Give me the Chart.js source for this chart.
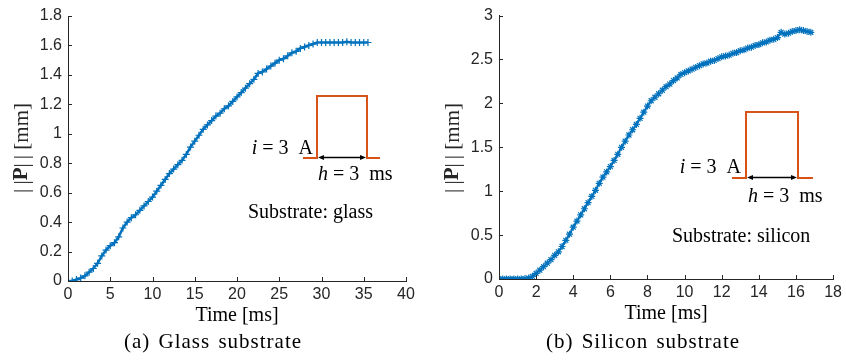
<!DOCTYPE html>
<html>
<head>
<meta charset="utf-8">
<script src="https://cdn.jsdelivr.net/npm/chart.js@4.4.0/dist/chart.umd.min.js"></script>
<style>
  body { margin: 0; background: #fff; width: 846px; height: 361px; position: relative; overflow: hidden; }
  .box { position: absolute; top: 0; width: 423px; height: 361px; }
  .cap { position: absolute; top: 329px; font: 21px "Liberation Serif", serif; letter-spacing: 1px; word-spacing: 2px; color: #000; white-space: nowrap; transform: translateX(-50%); }
</style>
</head>
<body>
<div class="box" style="left:0"><canvas id="glassChart"></canvas></div>
<div class="box" style="left:423px"><canvas id="siliconChart"></canvas></div>
<div class="cap" style="left:213px">(a) Glass substrate</div>
<div class="cap" style="left:643px">(b) Silicon substrate</div>

<script>
// data
const glassTime = [0, 0.5, 1, 1.5, 2, 2.5, 3, 3.5, 4, 4.5, 5, 5.5, 6, 6.5, 7, 7.5, 8, 8.5, 9, 9.5,
  10, 10.5, 11, 11.5, 12, 12.5, 13, 13.5, 14, 14.5, 15, 15.5, 16, 16.5, 17, 17.5, 18, 18.5, 19, 19.5,
  20, 20.5, 21, 21.5, 22, 22.5, 23, 23.5, 24, 24.5, 25, 25.5, 26, 26.5, 27, 27.5, 28, 28.5, 29, 29.5,
  30, 30.5, 31, 31.5, 32, 32.5, 33, 33.5, 34, 34.5, 35, 35.5];
const glassP = [0, 0, 0.01, 0.02, 0.035, 0.06, 0.085, 0.12, 0.17, 0.21, 0.24, 0.26, 0.30, 0.36, 0.40, 0.43, 0.45, 0.48, 0.51, 0.54,
  0.57, 0.61, 0.65, 0.69, 0.73, 0.76, 0.79, 0.82, 0.86, 0.91, 0.95, 0.99, 1.03, 1.06, 1.09, 1.12, 1.14, 1.17, 1.19, 1.22,
  1.25, 1.28, 1.31, 1.34, 1.37, 1.41, 1.42, 1.44, 1.46, 1.48, 1.50, 1.51, 1.53, 1.55, 1.56, 1.58, 1.59, 1.60, 1.61, 1.62,
  1.62, 1.62, 1.62, 1.62, 1.62, 1.62, 1.625, 1.62, 1.62, 1.62, 1.62, 1.62];

const siliconTime = [0, 0.2, 0.4, 0.6, 0.8, 1, 1.2, 1.4, 1.6, 1.8, 2, 2.2, 2.4, 2.6, 2.8, 3, 3.2, 3.4, 3.6, 3.8,
  4, 4.2, 4.4, 4.6, 4.8, 5, 5.2, 5.4, 5.6, 5.8, 6, 6.2, 6.4, 6.6, 6.8, 7, 7.2, 7.4, 7.6, 7.8,
  8, 8.2, 8.4, 8.6, 8.8, 9, 9.2, 9.4, 9.6, 9.8, 10, 10.2, 10.4, 10.6, 10.8, 11, 11.2, 11.4, 11.6, 11.8,
  12, 12.2, 12.4, 12.6, 12.8, 13, 13.2, 13.4, 13.6, 13.8, 14, 14.2, 14.4, 14.6, 14.8, 15, 15.2, 15.4, 15.6, 15.8,
  16, 16.2, 16.4, 16.6, 16.8];
const siliconP = [0, 0, 0, 0, 0, 0, 0, 0.005, 0.01, 0.03, 0.065, 0.10, 0.14, 0.18, 0.22, 0.27, 0.31, 0.37, 0.44, 0.51,
  0.59, 0.66, 0.73, 0.80, 0.87, 0.94, 1.01, 1.09, 1.16, 1.22, 1.28, 1.35, 1.42, 1.50, 1.57, 1.64, 1.70, 1.76, 1.83, 1.90,
  1.97, 2.03, 2.07, 2.11, 2.15, 2.19, 2.22, 2.26, 2.29, 2.33, 2.35, 2.37, 2.39, 2.41, 2.43, 2.45, 2.46, 2.48, 2.49, 2.51,
  2.53, 2.54, 2.55, 2.57, 2.58, 2.60, 2.61, 2.63, 2.64, 2.66, 2.67, 2.69, 2.70, 2.72, 2.73, 2.75, 2.81, 2.79, 2.80, 2.82,
  2.83, 2.84, 2.83, 2.82, 2.81];

const BLUE = '#0072BD';
const ORANGE = '#D95319';
const AXIS = '#262626';
const SERIF = '"Liberation Serif", serif';
const SANS = '"Liberation Sans", Arial';

// draw a row of text pieces with different fonts
function drawRuns(ctx, runs, x, y, align) {
  let total = 0;
  runs.forEach(r => { ctx.font = r.f; total += ctx.measureText(r.t).width; });
  let cx = align === 'right' ? x - total : align === 'center' ? x - total / 2 : x;
  ctx.textBaseline = 'middle';
  ctx.textAlign = 'left';
  runs.forEach(r => { ctx.font = r.f; ctx.fillText(r.t, cx, y); cx += ctx.measureText(r.t).width; });
}

// MATLAB style ticks pointing inward
const inwardTicks = {
  id: 'inwardTicks',
  afterDraw(chart) {
    const ctx = chart.ctx;
    const { x, y } = chart.scales;
    const area = chart.chartArea;
    ctx.save();
    ctx.strokeStyle = AXIS;
    ctx.lineWidth = 1;
    ctx.beginPath();
    x.ticks.forEach((t, i) => {
      const px = Math.round(x.getPixelForTick(i)) + 0.5;
      ctx.moveTo(px, area.bottom);
      ctx.lineTo(px, area.bottom - 4);
    });
    y.ticks.forEach((t, i) => {
      const py = Math.round(y.getPixelForTick(i)) + 0.5;
      ctx.moveTo(area.left, py);
      ctx.lineTo(area.left + 4, py);
    });
    ctx.stroke();
    ctx.restore();
  }
};

const yTitle = {
  id: 'yTitle',
  afterDraw(chart, args, o) {
    const ctx = chart.ctx;
    ctx.save();
    ctx.translate(o.x, o.y);
    ctx.rotate(-Math.PI / 2);
    ctx.fillStyle = AXIS;
    drawRuns(ctx, [
      { t: '|\u2009|', f: '21px ' + SERIF },
      { t: 'P', f: 'bold 21px ' + SERIF },
      { t: '|\u2009| [mm]', f: '21px ' + SERIF }
    ], 0, 0, 'center');
    ctx.restore();
  }
};

// current pulse sketch and substrate note
const inset = {
  id: 'inset',
  afterDraw(chart, args, o) {
    const ctx = chart.ctx;
    ctx.save();
    ctx.strokeStyle = ORANGE;
    ctx.lineWidth = 2;
    ctx.beginPath();
    ctx.moveTo(o.baseStart, o.base);
    ctx.lineTo(o.left, o.base);
    ctx.lineTo(o.left, o.top);
    ctx.lineTo(o.right, o.top);
    ctx.lineTo(o.right, o.base);
    ctx.lineTo(o.baseEnd, o.base);
    ctx.stroke();

    // double arrow for pulse width
    const ay = o.base - 0.5;
    const a0 = o.left + 1, a1 = o.right - 1;
    ctx.strokeStyle = '#000';
    ctx.fillStyle = '#000';
    ctx.lineWidth = 1.3;
    ctx.beginPath();
    ctx.moveTo(a0 + 4, ay);
    ctx.lineTo(a1 - 4, ay);
    ctx.stroke();
    ctx.beginPath();
    ctx.moveTo(a0, ay); ctx.lineTo(a0 + 6, ay - 2.5); ctx.lineTo(a0 + 6, ay + 2.5); ctx.closePath();
    ctx.moveTo(a1, ay); ctx.lineTo(a1 - 6, ay - 2.5); ctx.lineTo(a1 - 6, ay + 2.5); ctx.closePath();
    ctx.fill();

    ctx.fillStyle = '#000';
    drawRuns(ctx, [
      { t: 'i', f: 'italic 20px ' + SERIF },
      { t: ' = 3  A', f: '20px ' + SERIF }
    ], o.iRight, o.iY, 'right');
    drawRuns(ctx, [
      { t: 'h', f: 'italic 20px ' + SERIF },
      { t: ' = 3  ms', f: '20px ' + SERIF }
    ], o.hLeft, o.hY, 'left');
    drawRuns(ctx, [{ t: o.note, f: '20px ' + SERIF }], o.noteLeft, o.noteY, 'left');
    ctx.restore();
  }
};

function makeChart(id, time, values, cfg) {
  const points = time.map((t, i) => ({ x: t, y: values[i] }));
  return new Chart(document.getElementById(id), {
    type: 'scatter',
    data: {
      datasets: [{
        data: points,
        pointStyle: cfg.marker,
        pointRadius: cfg.radius,
        pointBorderWidth: 1.2,
        borderColor: BLUE,
        backgroundColor: BLUE,
        showLine: true,
        borderWidth: cfg.lineWidth
      }]
    },
    options: {
      animation: false,
      responsive: true,
      maintainAspectRatio: false,
      layout: { padding: { left: 0, right: cfg.padRight, top: cfg.padTop, bottom: cfg.padBottom } },
      plugins: {
        legend: { display: false },
        tooltip: { enabled: false },
        yTitle: cfg.yTitle,
        inset: cfg.inset
      },
      scales: {
        x: {
          type: 'linear',
          min: 0,
          max: cfg.xMax,
          ticks: { stepSize: cfg.xStep, color: AXIS, font: { family: SANS, size: 16 }, padding: 4, maxRotation: 0, autoSkip: false },
          grid: { display: false, drawTicks: false },
          border: { color: AXIS, width: 1 },
          title: { display: true, text: 'Time [ms]', color: '#000', font: { family: SERIF, size: 20 }, padding: 0 },
          afterFit: s => { s.height = 47; }
        },
        y: {
          type: 'linear',
          min: 0,
          max: cfg.yMax,
          ticks: {
            stepSize: cfg.yStep, color: AXIS, font: { family: SANS, size: 16 }, padding: 6, autoSkip: false,
            callback: v => String(Number(v.toFixed(2)))
          },
          grid: { display: false, drawTicks: false },
          border: { color: AXIS, width: 1 },
          afterFit: s => { s.width = cfg.yWidth; }
        }
      }
    },
    plugins: [inwardTicks, yTitle, inset]
  });
}

makeChart('glassChart', glassTime, glassP, {
  marker: 'cross', radius: 3.5, lineWidth: 2.5,
  xMax: 40, xStep: 5, yMax: 1.8, yStep: 0.2,
  yWidth: 68, padRight: 17, padTop: 16, padBottom: 33,
  yTitle: { x: 22, y: 148 },
  inset: {
    left: 317, right: 367, top: 96, base: 158, baseStart: 303, baseEnd: 380,
    iRight: 313, iY: 149, hLeft: 318, hY: 175,
    note: 'Substrate: glass', noteLeft: 248, noteY: 213
  }
});

makeChart('siliconChart', siliconTime, siliconP, {
  marker: 'star', radius: 3.5, lineWidth: 2,
  xMax: 18, xStep: 2, yMax: 3, yStep: 0.5,
  yWidth: 76, padRight: 10, padTop: 14, padBottom: 35,
  yTitle: { x: 30, y: 148 },
  inset: {
    left: 323, right: 375, top: 112, base: 178, baseStart: 309, baseEnd: 390,
    iRight: 318, iY: 168, hLeft: 325, hY: 197,
    note: 'Substrate: silicon', noteLeft: 249, noteY: 237
  }
});
</script>
</body>
</html>
